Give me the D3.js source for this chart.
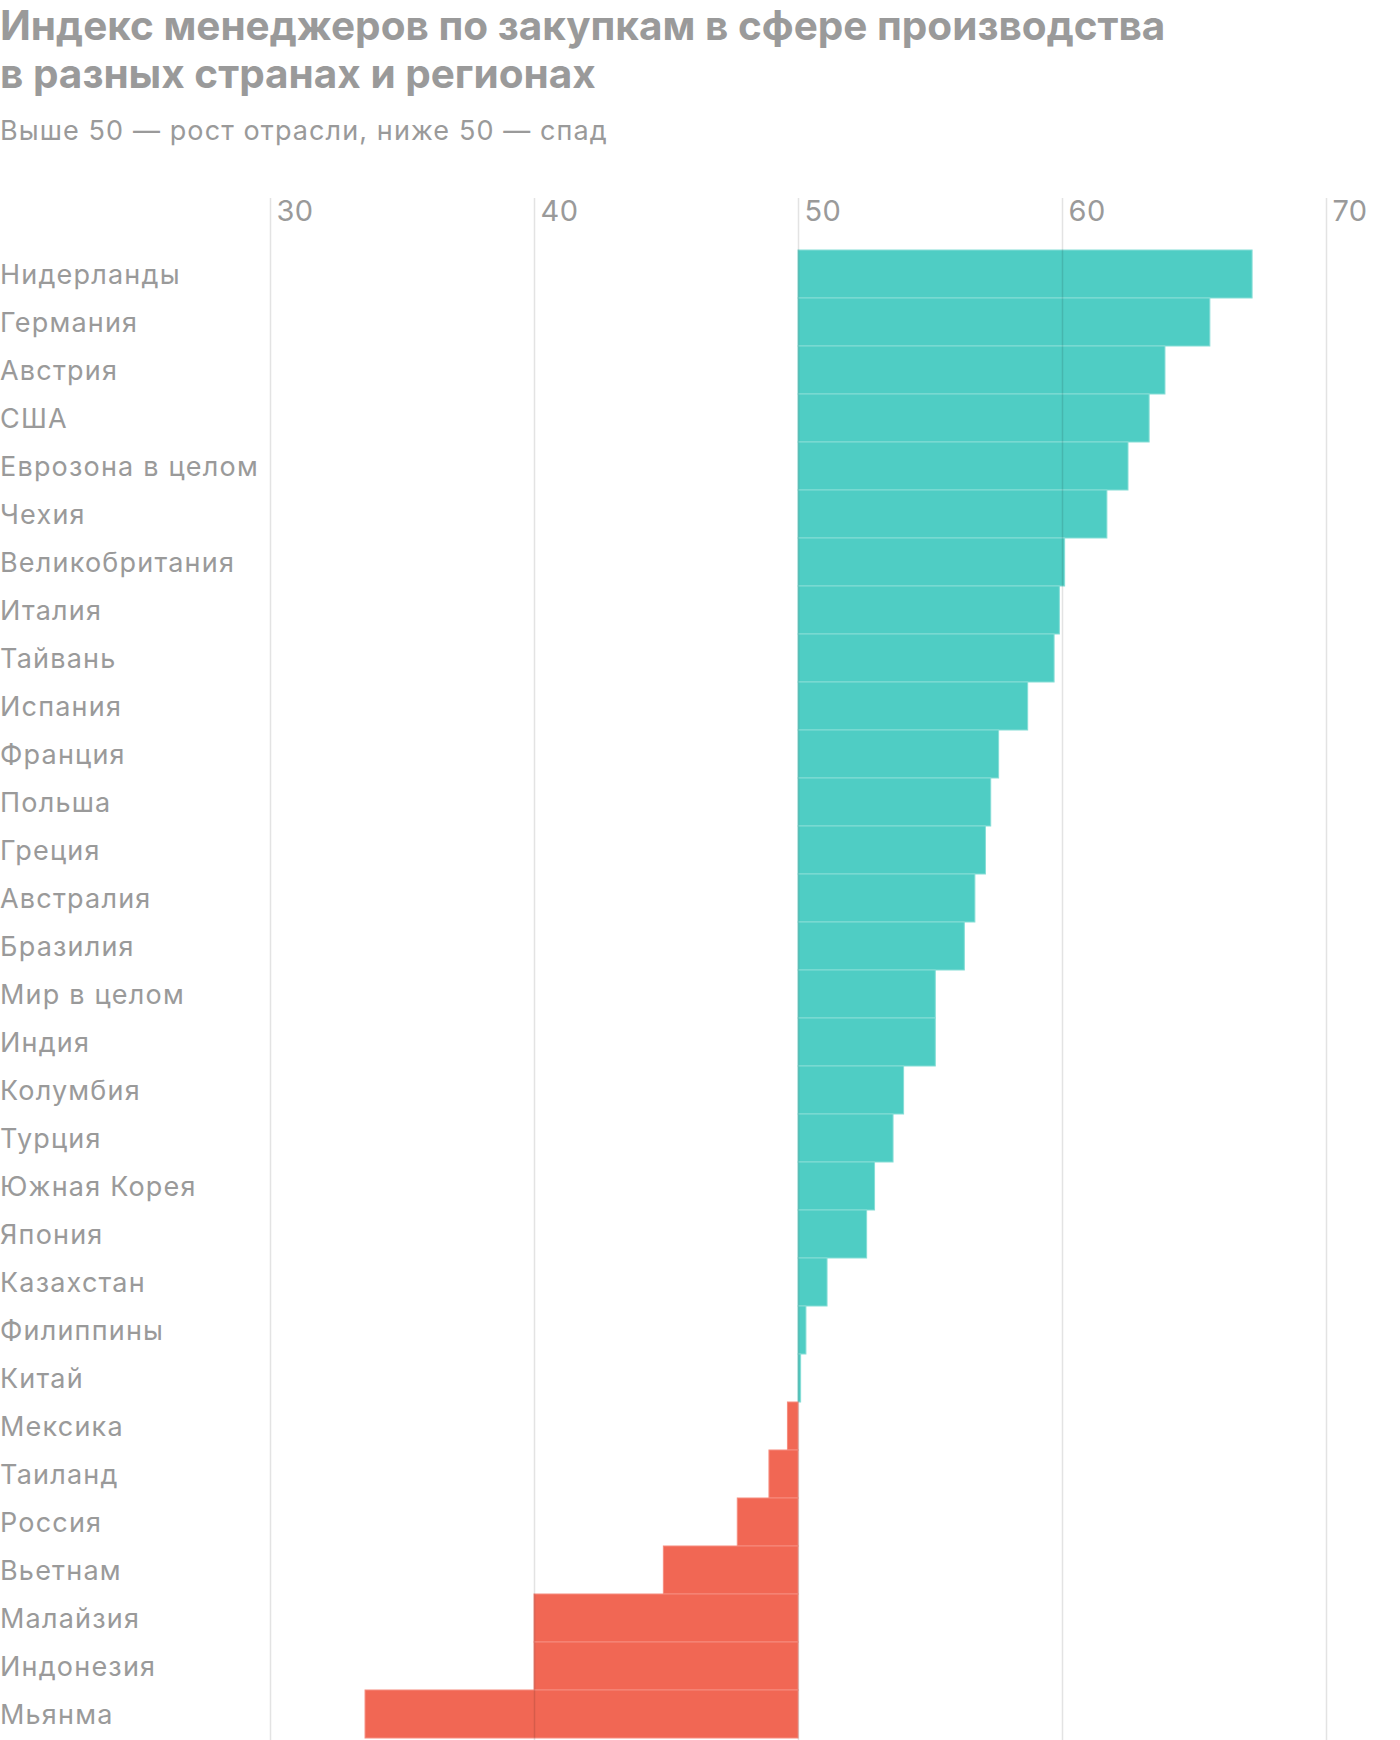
<!DOCTYPE html>
<html lang="ru">
<head>
<meta charset="utf-8">
<script src="https://cdn.jsdelivr.net/npm/d3@7"></script>
<style>
  html, body { margin: 0; padding: 0; background: #fff; }
  svg { display: block; }
  text { font-family: Inter, "Noto Sans", sans-serif; }
</style>
</head>
<body>
<svg id="chart" width="1400" height="1740"></svg>
<script>
const titleLines = ["Индекс менеджеров по закупкам в сфере производства", "в разных странах и регионах"];
const subtitle = "Выше 50 — рост отрасли, ниже 50 — спад";

const countries = [
  "Нидерланды", "Германия", "Австрия", "США", "Еврозона в целом", "Чехия",
  "Великобритания", "Италия", "Тайвань", "Испания", "Франция", "Польша",
  "Греция", "Австралия", "Бразилия", "Мир в целом", "Индия", "Колумбия",
  "Турция", "Южная Корея", "Япония", "Казахстан", "Филиппины", "Китай",
  "Мексика", "Таиланд", "Россия", "Вьетнам", "Малайзия", "Индонезия", "Мьянма"
];
const pmi = [
  67.2, 65.6, 63.9, 63.3, 62.5, 61.7,
  60.1, 59.9, 59.7, 58.7, 57.6, 57.3,
  57.1, 56.7, 56.3, 55.2, 55.2, 54.0,
  53.6, 52.9, 52.6, 51.1, 50.3, 50.1,
  49.6, 48.9, 47.7, 44.9, 40.0, 40.0, 33.6
];
const tickValues = [30, 40, 50, 60, 70];
const baselineValue = 50;

const svg = d3.select("#chart");
const grey = "#9a9a9a";

// Title
const title = svg.append("text")
  .attr("fill", grey)
  .attr("font-size", 40.5).attr("font-weight", 700)
  .attr("letter-spacing", 0);
titleLines.forEach((t, i) => {
  title.append("tspan").attr("x", 0).attr("y", 40 + i * 48).text(t);
});
svg.append("text")
  .attr("x", 0).attr("y", 140)
  .attr("fill", grey)
  .attr("font-size", 27)
  .attr("letter-spacing", 1.1)
  .text(subtitle);

const x = d3.scaleLinear().domain([30, 70]).range([270, 1326]);
const y = d3.scaleBand().domain(countries).range([250, 1738]).padding(0);

// Bars
svg.append("g").selectAll("rect")
  .data(countries.map((c, i) => ({ c, v: pmi[i] })))
  .join("rect")
  .attr("x", d => x(Math.min(d.v, baselineValue)))
  .attr("width", d => Math.abs(x(d.v) - x(baselineValue)))
  .attr("y", d => y(d.c))
  .attr("height", y.bandwidth())
  .attr("fill", d => d.v >= baselineValue ? "#4fcdc4" : "#f16754")
  .attr("stroke", d => d.v >= baselineValue ? "#86ddd6" : "#f68c7e")
  .attr("stroke-width", 1);

// Grid + tick labels via axis
const axis = d3.axisTop(x).tickValues(tickValues).tickSize(0).tickPadding(0);
const gAxis = svg.append("g").call(axis);
gAxis.select(".domain").remove();
gAxis.selectAll(".tick line")
  .attr("y1", 198).attr("y2", 1740)
  .attr("stroke", "#000").attr("stroke-opacity", 0.11).attr("stroke-width", 1.5);
gAxis.selectAll(".tick text")
  .attr("x", 6).attr("y", 221)
  .attr("text-anchor", "start")
  .attr("fill", grey)
  .attr("font-size", 29)
  .attr("letter-spacing", 0.4)
  .attr("font-family", "Inter, sans-serif");

// Category labels
svg.append("g").selectAll("text")
  .data(countries)
  .join("text")
  .attr("x", 0)
  .attr("y", d => y(d) + y.bandwidth() / 2 + 10)
  .attr("fill", grey)
  .attr("font-size", 27)
  .attr("letter-spacing", 1.2)
  .text(d => d);
</script>
</body>
</html>
